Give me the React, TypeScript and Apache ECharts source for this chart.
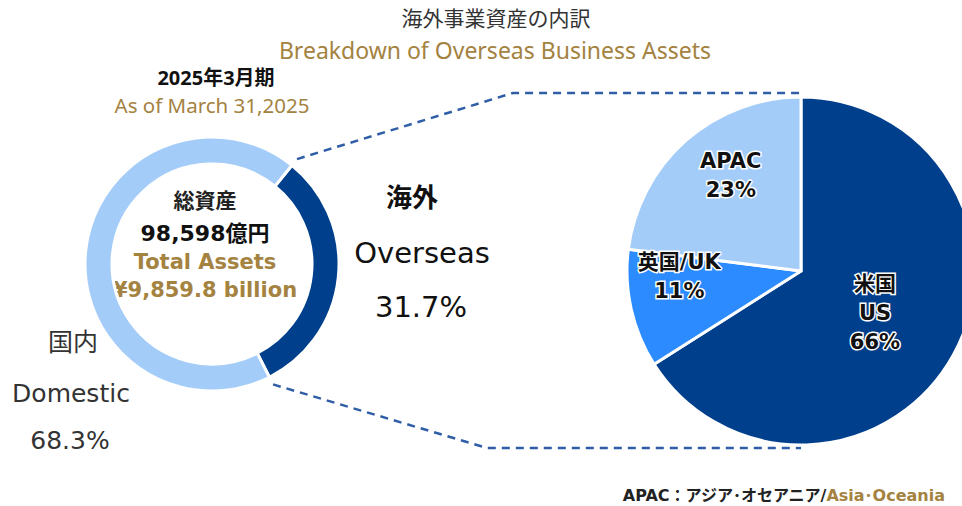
import React, { useEffect, useRef } from "react";
import * as echarts from "echarts";

// ---- data ----
const assetCategories = ["海外", "国内"];
const assetCategoriesEn = ["Overseas", "Domestic"];
const assetShares = [31.7, 68.3];
const regionCategories = ["米国\nUS", "英国/UK", "APAC"];
const regionShares = [66, 11, 23];
const totalAssetsJa = "98,598億円";
const totalAssetsEn = "¥9,859.8 billion";

// ---- style ----
const DARK = "#003F8C";
const MID = "#2B8BFF";
const LIGHT = "#A4CCF9";
const GOLD = "#A4823F";
const LINE = "#2F5EA6";
const BODY = "'DejaVu Sans', 'Noto Sans CJK JP', sans-serif";
const TITLEF = "'Noto Sans', 'Noto Sans CJK JP', sans-serif";

const donutC = [212, 264];
const donutR = [100, 127];
const donutStart = 51;
const pieC = [801, 271];
const pieR = 174;
// label radial fraction and angle nudge (deg) per slice
const pieLabelPlace = [
  { f: 0.49, da: 1 },
  { f: 0.7, da: 10 },
  { f: 0.68, da: 5 },
];

function txt(text: string, x: number, y: number, size: number, opts: any = {}) {
  return {
    type: "text",
    x,
    y,
    silent: true,
    style: {
      text,
      fontSize: size,
      fontFamily: opts.family || BODY,
      fontWeight: opts.weight || "normal",
      fill: opts.color || "#333",
      align: opts.align || "center",
      textAlign: opts.align || "center",
      verticalAlign: "middle",
      textVerticalAlign: "middle",
    },
  };
}

export default function App() {
  const ref = useRef<HTMLDivElement>(null);
  useEffect(() => {
    if (!ref.current) return;
    const chart = echarts.init(ref.current, undefined, { renderer: "svg" });

    const rad = (d: number) => (d * Math.PI) / 180;
    // overseas slice edges (ECharts angle: ccw from 3 o'clock, slices go clockwise)
    const a0 = donutStart;
    const a1 = donutStart - (360 * assetShares[0]) / 100;
    const off = 8;
    const p0 = [
      donutC[0] + (donutR[1] + off) * Math.cos(rad(a0)),
      donutC[1] - (donutR[1] + off) * Math.sin(rad(a0)),
    ];
    const p1 = [
      donutC[0] + (donutR[1] + off) * Math.cos(rad(a1)),
      donutC[1] - (donutR[1] + off) * Math.sin(rad(a1)),
    ];
    const topY = pieC[1] - pieR - 4;
    const botY = pieC[1] + pieR + 3;

    const total = regionShares.reduce((s, v) => s + v, 0);
    const labelPos = (i: number) => {
      let before = 0;
      for (let k = 0; k < i; k++) before += regionShares[k];
      const mid = ((before + regionShares[i] / 2) / total) * 360 + pieLabelPlace[i].da; // clockwise from top
      const r = pieR * pieLabelPlace[i].f;
      return [pieC[0] + r * Math.sin(rad(mid)), pieC[1] - r * Math.cos(rad(mid))];
    };

    chart.setOption({
      animation: false,
      backgroundColor: "#fff",
      series: [
        {
          type: "pie",
          silent: true,
          center: donutC,
          radius: donutR,
          startAngle: donutStart,
          clockwise: true,
          label: { show: false },
          labelLine: { show: false },
          itemStyle: { borderColor: "#fff", borderWidth: 3 },
          data: assetCategories.map((n, i) => ({
            name: n,
            value: assetShares[i],
            itemStyle: { color: i === 0 ? DARK : LIGHT },
          })),
        },
        {
          type: "pie",
          silent: true,
          center: pieC,
          radius: [0, pieR],
          startAngle: 90,
          clockwise: true,
          itemStyle: { borderColor: "#fff", borderWidth: 3 },
          label: {
            show: true,
            position: "inside",
            formatter: (p: any) => `${p.name}\n${p.value}%`,
            fontFamily: BODY,
            fontWeight: "bold",
            fontSize: 21,
            lineHeight: 29,
            color: "#111",
            textBorderColor: "#fff",
            textBorderWidth: 3,
            align: "center",
            verticalAlign: "middle",
          },
          labelLine: { show: false },
          labelLayout: (params: any) => {
            const [x, y] = labelPos(params.dataIndex);
            return { x, y };
          },
          data: regionCategories.map((n, i) => ({
            name: n,
            value: regionShares[i],
            itemStyle: { color: [DARK, MID, LIGHT][i] },
          })),
        },
      ],
      graphic: [
        {
          type: "polyline",
          silent: true,
          shape: { points: [p0, [513, topY], [pieC[0], topY]] },
          style: { stroke: LINE, lineWidth: 2.5, lineDash: [8, 6], fill: null },
        },
        {
          type: "polyline",
          silent: true,
          shape: { points: [p1, [487, botY], [pieC[0], botY]] },
          style: { stroke: LINE, lineWidth: 2.5, lineDash: [8, 6], fill: null },
        },
        txt("海外事業資産の内訳", 496, 18, 21, { family: TITLEF, color: "#333" }),
        txt("Breakdown of Overseas Business Assets", 495, 50, 23, { family: TITLEF, color: GOLD }),
        txt("2025年3月期", 216, 77, 20, { family: TITLEF, weight: "bold", color: "#111" }),
        txt("As of March 31,2025", 212, 105, 20.5, { family: TITLEF, color: GOLD }),
        txt("総資産", 205, 201, 21, { weight: "bold", color: "#222" }),
        txt(totalAssetsJa, 205, 233, 22, { weight: "bold", color: "#111" }),
        txt("Total Assets", 205, 262, 21, { weight: "bold", color: GOLD }),
        txt(totalAssetsEn, 205, 290, 21, { weight: "bold", color: GOLD }),
        txt(assetCategories[1], 73, 342, 25, { color: "#333" }),
        txt(assetCategoriesEn[1], 71, 393, 25, { color: "#333" }),
        txt(`${assetShares[1]}%`, 70, 440, 25, { color: "#333" }),
        txt(assetCategories[0], 412, 198, 26, { weight: "bold", color: "#111" }),
        txt(assetCategoriesEn[0], 422, 253, 29, { color: "#111" }),
        txt(`${assetShares[0]}%`, 421, 307, 29, { color: "#111" }),
        {
          type: "text",
          x: 945,
          y: 495,
          silent: true,
          style: {
            text: "{a|APAC：アジア･オセアニア/}{b|Asia･Oceania}",
            align: "right",
            textAlign: "right",
            verticalAlign: "middle",
            textVerticalAlign: "middle",
            rich: {
              a: { fontFamily: BODY, fontWeight: "bold", fontSize: 16, fill: "#222", color: "#222" },
              b: { fontFamily: BODY, fontWeight: "bold", fontSize: 16, fill: GOLD, color: GOLD },
            },
          },
        },
      ],
    });
    return () => chart.dispose();
  }, []);
  return (
    <div
      ref={ref}
      style={{ position: "absolute", left: 0, top: 0, width: 962, height: 506 }}
    />
  );
}
